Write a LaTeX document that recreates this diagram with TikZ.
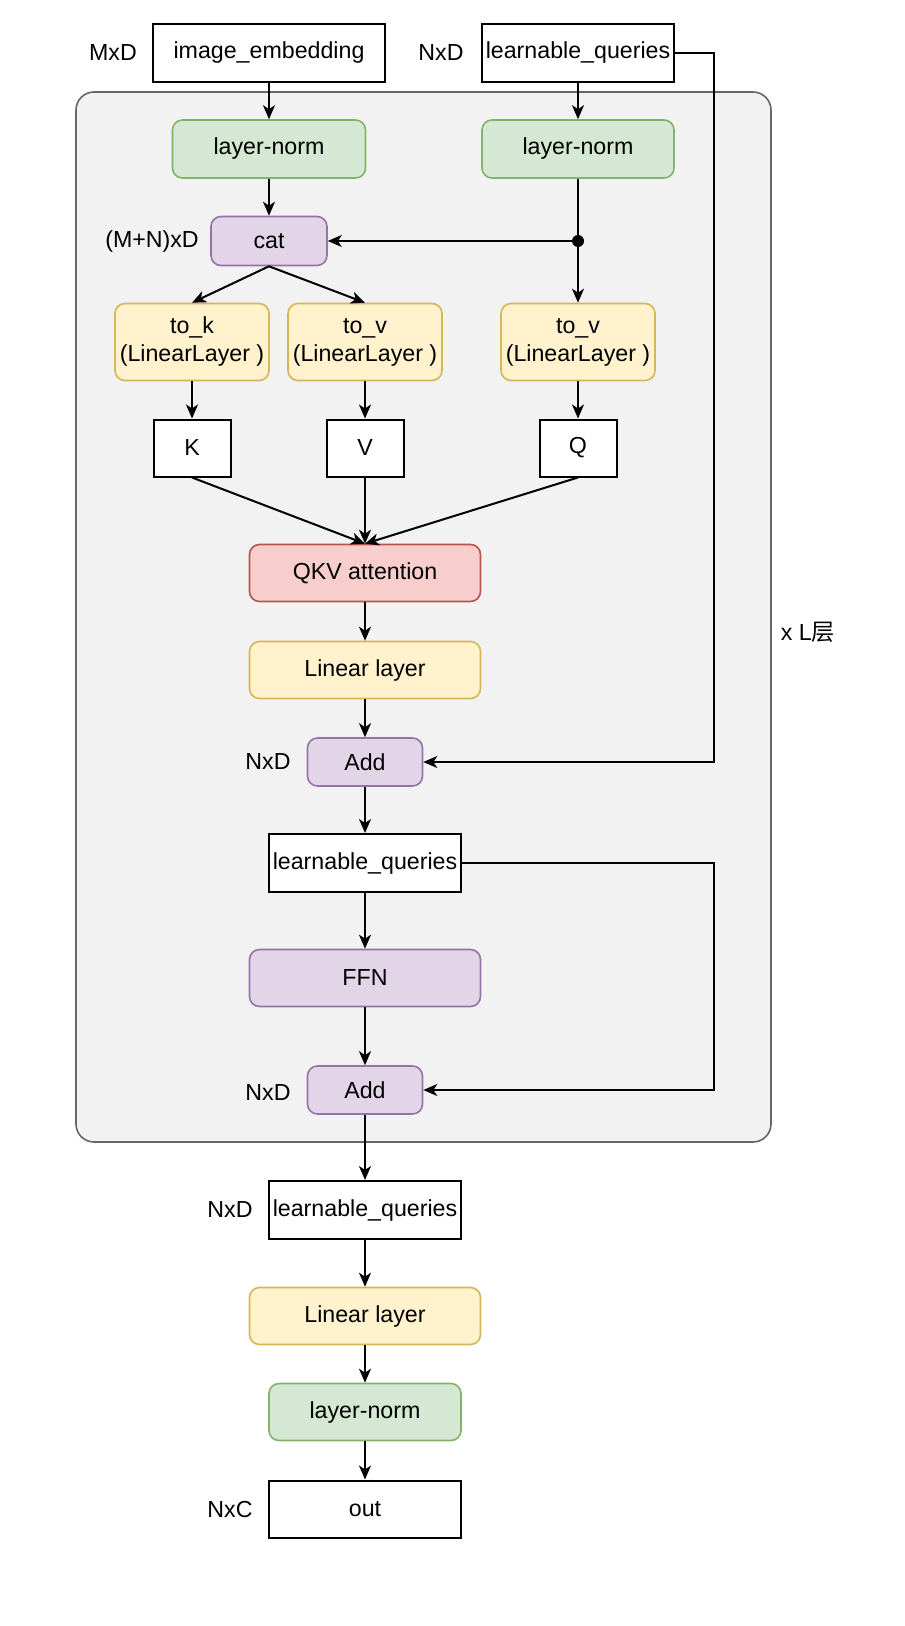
\documentclass[tikz,border=0pt]{standalone}
\usepackage{fontspec}
\setmainfont{Liberation Sans}
\newfontfamily\cjk{Noto Sans CJK SC}
\usetikzlibrary{arrows.meta}
\definecolor{greenfill}{HTML}{D5E8D4}
\definecolor{greendraw}{HTML}{82B366}
\definecolor{purplefill}{HTML}{E1D5E7}
\definecolor{purpledraw}{HTML}{9673A6}
\definecolor{yellowfill}{HTML}{FFF2CC}
\definecolor{yellowdraw}{HTML}{D6B656}
\definecolor{redfill}{HTML}{F8CECC}
\definecolor{reddraw}{HTML}{B85450}
\definecolor{boxfill}{HTML}{F2F2F2}
\definecolor{boxdraw}{HTML}{666666}
\begin{document}
\begin{tikzpicture}[x=0.5pt,y=-0.5pt,font=\fontsize{11.6}{14}\selectfont]
   \tikzstyle{line} = [draw, line width=1pt, -{Stealth[length=7pt,width=6pt,inset=2pt]}]
   \tikzstyle{plain} = [draw, line width=1pt, fill=white, inner sep=1pt]
   \tikzstyle{block} = [draw, line width=0.8pt, rounded corners=5pt, inner sep=1pt, align=center]
   \tikzstyle{norm} = [block, fill=greenfill, draw=greendraw]
   \tikzstyle{op} = [block, fill=purplefill, draw=purpledraw]
   \tikzstyle{lin} = [block, fill=yellowfill, draw=yellowdraw]
   \tikzstyle{attn} = [block, fill=redfill, draw=reddraw]

   \useasboundingbox (0,0) rectangle (904,1626);
   \draw[fill=boxfill, draw=boxdraw, line width=0.8pt, rounded corners=9pt] (76,92) rectangle (771,1142);

   \node (mxd) at (113,53) {MxD};
   \node[plain, minimum width=116pt, minimum height=29pt] (img) at (269,53) {image\_embedding};
   \node (nxd) at (441,53) {NxD};
   \node[plain, minimum width=96pt, minimum height=29pt] (lq1) at (578,53) {learnable\_queries};

   \node[norm, minimum width=96.5pt, minimum height=29pt] (lnl) at (269,149) {layer-norm};
   \node[norm, minimum width=96pt, minimum height=29pt] (lnr) at (578,149) {layer-norm};

   \node (mnd) at (152,241) {(M+N)xD};
   \node[op, minimum width=58pt, minimum height=24.5pt] (cat) at (269,241) {cat};
   \node[circle, fill, inner sep=0pt, minimum size=6pt] (dot) at (578,241) {};

   \node[lin, minimum width=77pt, minimum height=38.5pt] (tok) at (192,342) {to\_k\\(LinearLayer )};
   \node[lin, minimum width=77pt, minimum height=38.5pt] (tov) at (365,342) {to\_v\\(LinearLayer )};
   \node[lin, minimum width=77pt, minimum height=38.5pt] (toq) at (578,342) {to\_v\\(LinearLayer )};

   \node[plain, minimum width=38.5pt, minimum height=28.5pt] (k) at (192,448) {K};
   \node[plain, minimum width=38.5pt, minimum height=28.5pt] (v) at (365,448) {V};
   \node[plain, minimum width=38.5pt, minimum height=28.5pt] (q) at (578,448) {Q};

   \node[attn, minimum width=115.5pt, minimum height=28.5pt] (qkv) at (365,573) {QKV attention};
   \node[lin, minimum width=115.5pt, minimum height=28.5pt] (lin1) at (365,670) {Linear layer};
   \node (nxd1) at (268,762) {NxD};
   \node[op, minimum width=57.5pt, minimum height=24pt] (add1) at (365,762) {Add};
   \node[plain, minimum width=96pt, minimum height=29pt] (lq2) at (365,863) {learnable\_queries};
   \node[op, minimum width=115.5pt, minimum height=28.5pt] (ffn) at (365,978) {FFN};
   \node (nxd2) at (268,1093) {NxD};
   \node[op, minimum width=57.5pt, minimum height=24pt] (add2) at (365,1090) {Add};
   \node (layers) at (808,632) {x L{\cjk 层}};

   \node (nxd3) at (230,1210) {NxD};
   \node[plain, minimum width=96pt, minimum height=29pt] (lq3) at (365,1210) {learnable\_queries};
   \node[lin, minimum width=115.5pt, minimum height=28.5pt] (lin2) at (365,1316) {Linear layer};
   \node[norm, minimum width=96pt, minimum height=28.5pt] (lnb) at (365,1412) {layer-norm};
   \node (nxc) at (230,1509) {NxC};
   \node[plain, minimum width=96pt, minimum height=28.5pt] (out) at (365,1509) {out};

   \path [line] (img) -- (lnl);
   \path [line] (lq1) -- (lnr);
   \path [line] (lnl) -- (cat);
   \path [draw, line width=1pt] (lnr) -- (dot);
   \path [line] (dot) -- (toq);
   \path [line] (dot) -- (cat);

   \path [line] (cat.south) -- (tok.north);
   \path [line] (cat.south) -- (tov.north);

   \path [line] (tok) -- (k);
   \path [line] (tov) -- (v);
   \path [line] (toq) -- (q);

   \path [line] (k.south) -- (qkv.north);
   \path [line] (v.south) -- (qkv.north);
   \path [line] (q.south) -- (qkv.north);

   \path [line] (qkv) -- (lin1);
   \path [line] (lin1) -- (add1);
   \path [line] (lq1.east) -- ++(39,0) |- (add1.east);

   \path [line] (add1) -- (lq2);
   \path [line] (lq2) -- (ffn);
   \path [line] (ffn) -- (add2);
   \path [line] (lq2.east) -- ++(252,0) |- (add2.east);

   \path [line] (add2) -- (lq3);
   \path [line] (lq3) -- (lin2);
   \path [line] (lin2) -- (lnb);
   \path [line] (lnb) -- (out);
\end{tikzpicture}
\end{document}
